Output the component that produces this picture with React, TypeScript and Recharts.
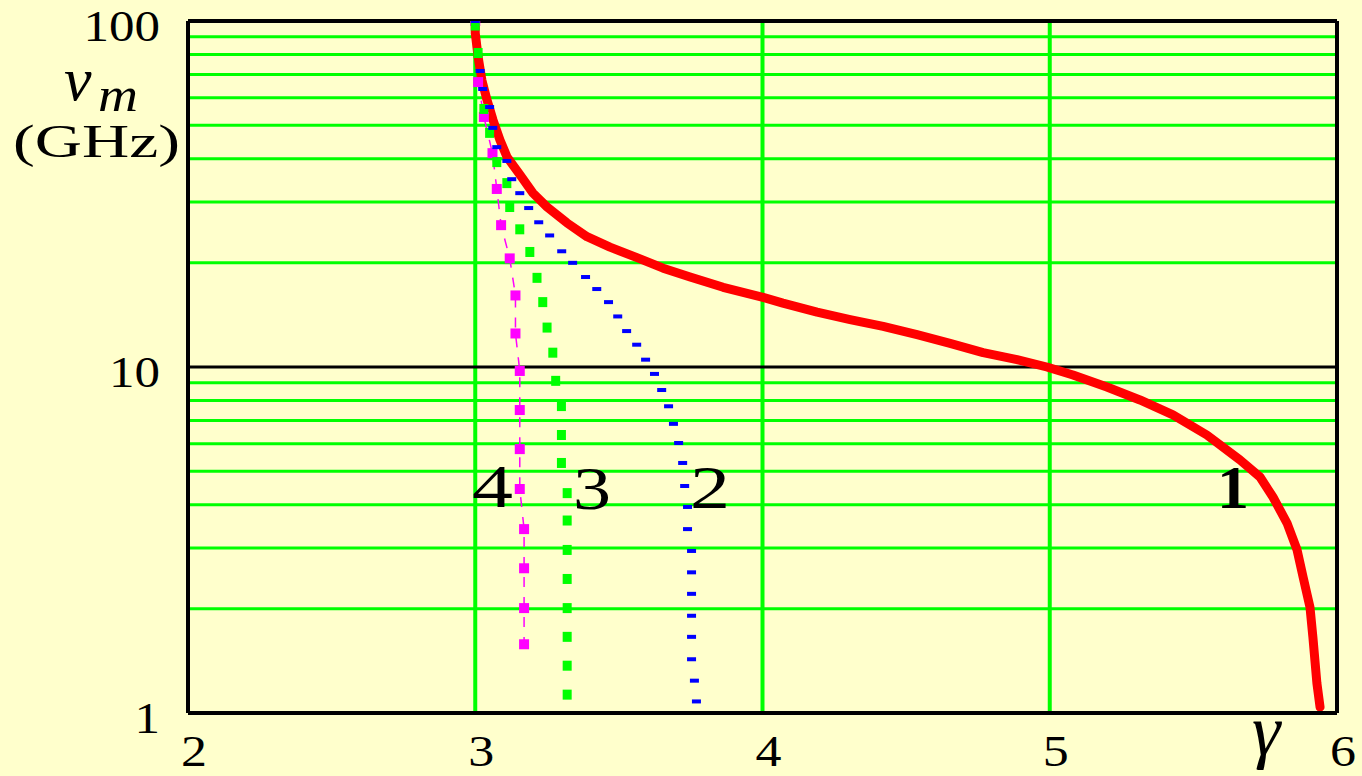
import React from "react";
import { LineChart, Line, XAxis, YAxis, ReferenceLine } from "recharts";

// curve 1 (red, solid)
const gamma1 = [3.0, 3.0, 3.01, 3.023, 3.041, 3.062, 3.086, 3.111, 3.156, 3.201, 3.25, 3.319, 3.389, 3.469, 3.563, 3.654, 3.748, 3.863, 4.002, 4.071, 4.19, 4.305, 4.42, 4.538, 4.653, 4.768, 4.886, 4.99, 5.081, 5.199, 5.314, 5.429, 5.547, 5.662, 5.732, 5.777, 5.826, 5.861, 5.882, 5.906, 5.916, 5.93, 5.941];
const freq1 = [100, 92.3, 78.7, 67.5, 59.1, 51.7, 45.3, 40.4, 35.9, 31.8, 29.0, 26.1, 23.8, 22.2, 20.7, 19.3, 18.2, 17.0, 15.9, 15.3, 14.4, 13.7, 13.1, 12.4, 11.7, 11.0, 10.5, 10.0, 9.48, 8.75, 8.03, 7.27, 6.36, 5.39, 4.81, 4.21, 3.54, 2.96, 2.47, 2.02, 1.66, 1.22, 1.04];

// curve 2 (blue dashes)
const gamma2 = [3.0, 3.017, 3.026, 3.05, 3.061, 3.075, 3.11, 3.127, 3.155, 3.186, 3.221, 3.259, 3.301, 3.339, 3.384, 3.423, 3.464, 3.496, 3.527, 3.562, 3.593, 3.624, 3.649, 3.673, 3.69, 3.708, 3.722, 3.729, 3.739, 3.739, 3.753, 3.753, 3.753, 3.753, 3.753, 3.753, 3.763, 3.77];
const freq2 = [100, 71.7, 63.6, 56.4, 49.1, 43.2, 39.4, 34.9, 31.8, 28.8, 26.2, 24.0, 21.6, 20.0, 18.2, 16.8, 15.4, 14.0, 12.7, 11.6, 10.5, 9.55, 8.58, 7.7, 6.85, 6.03, 5.28, 4.53, 3.94, 3.4, 2.94, 2.55, 2.21, 1.91, 1.66, 1.43, 1.24, 1.08];

// curve 3 (green squares)
const gamma3 = [3.0, 3.01, 3.03, 3.05, 3.075, 3.11, 3.12, 3.155, 3.19, 3.215, 3.235, 3.25, 3.27, 3.28, 3.3, 3.3, 3.3, 3.32, 3.32, 3.32, 3.32, 3.32, 3.32, 3.32, 3.32];
const freq3 = [97, 80.8, 55.7, 47.5, 39.1, 34.0, 29.0, 25.0, 21.5, 18.1, 15.4, 13.0, 11.0, 9.12, 7.71, 6.36, 5.28, 4.32, 3.6, 2.96, 2.44, 2.01, 1.66, 1.37, 1.13];

// curve 4 (magenta dash-dot)
const gamma4 = [3.0, 3.01, 3.03, 3.06, 3.075, 3.09, 3.12, 3.14, 3.14, 3.155, 3.155, 3.155, 3.155, 3.17, 3.17, 3.17, 3.17];
const freq4 = [100, 66.6, 52.8, 41.5, 32.7, 25.7, 20.6, 16.1, 12.5, 9.74, 7.51, 5.79, 4.44, 3.4, 2.62, 2.01, 1.58];

const xTicks = [2, 3, 4, 5, 6];
const yTicks = [1, 10, 100];
const minorY = [2, 3, 4, 5, 6, 7, 8, 9, 20, 30, 40, 50, 60, 70, 80, 90];
const gridX = [3, 4, 5];

const toRows = (g: number[], f: number[]) => g.map((x, i) => ({ x, y: f[i] }));

const serif = "Liberation Serif, Times New Roman, Times, serif";

const YTick = (p: any) => (
  <text x={160} y={p.y + 20} textAnchor="end" fontSize={44} fontFamily={serif} fill="#000"
    textLength={String(p.payload.value).length * 25.5} lengthAdjust="spacingAndGlyphs">
    {p.payload.value}
  </text>
);

const XTick = (p: any) => (
  <text x={p.x + 6} y={766} textAnchor="middle" fontSize={44} fontFamily={serif} fill="#000"
    textLength={26} lengthAdjust="spacingAndGlyphs">
    {p.payload.value}
  </text>
);

const dashDot = (color: string) => (p: any) => (
  <rect key={`b${p.index}`} x={p.cx - 4.5} y={p.cy - 2} width={9} height={4} fill={color} />
);
const squareDot = (color: string, w: number, h: number) => (p: any) => (
  <rect key={`s${p.index}`} x={p.cx - w / 2} y={p.cy - h / 2} width={w} height={h} fill={color} />
);

export default function App() {
  return (
    <div style={{ position: "absolute", left: 0, top: 0, width: 1362, height: 776, background: "#FFFFCC" }}>
      <LineChart width={1362} height={776} margin={{ top: 21, right: 25, bottom: 13, left: 88 }}>
        <XAxis
          type="number"
          dataKey="x"
          domain={[2, 6]}
          ticks={xTicks}
          tick={<XTick />}
          tickLine={false}
          axisLine={{ stroke: "#000", strokeWidth: 4 }}
          height={50}
          allowDataOverflow
        />
        <YAxis
          type="number"
          dataKey="y"
          scale="log"
          domain={[1, 100]}
          ticks={yTicks}
          tick={<YTick />}
          tickLine={false}
          axisLine={{ stroke: "#000", strokeWidth: 4 }}
          width={100}
          allowDataOverflow
        />
        {minorY.map((v) => (
          <ReferenceLine key={`h${v}`} y={v} stroke="#00FF00" strokeWidth={3} />
        ))}
        {gridX.map((v) => (
          <ReferenceLine key={`v${v}`} x={v} stroke="#00FF00" strokeWidth={4} />
        ))}
        <ReferenceLine y={10} stroke="#000" strokeWidth={3} />
        <ReferenceLine y={100} stroke="#000" strokeWidth={4} />
        <ReferenceLine x={6} stroke="#000" strokeWidth={4} />
        <Line
          data={toRows(gamma4, freq4)}
          dataKey="y"
          type="linear"
          stroke="#FF00FF"
          strokeWidth={1.5}
          strokeDasharray="10 10"
          dot={squareDot("#FF00FF", 10, 10)}
          isAnimationActive={false}
        />
        <Line
          data={toRows(gamma3, freq3)}
          dataKey="y"
          type="linear"
          stroke="none"
          dot={squareDot("#00FF00", 9, 10)}
          isAnimationActive={false}
        />
        <Line
          data={toRows(gamma2, freq2)}
          dataKey="y"
          type="linear"
          stroke="none"
          dot={dashDot("#0000FF")}
          isAnimationActive={false}
        />
        <Line
          data={toRows(gamma1, freq1)}
          dataKey="y"
          type="linear"
          stroke="#FF0000"
          strokeWidth={9}
          strokeLinejoin="round"
          strokeLinecap="round"
          dot={false}
          isAnimationActive={false}
        />
      </LineChart>
      <svg
        width={1362}
        height={776}
        style={{ position: "absolute", left: 0, top: 0, pointerEvents: "none" }}
        fontFamily={serif}
      >
        <text x={64} y={100} fontSize={62} fontStyle="italic">ν</text>
        <text x={98} y={111} fontSize={48} fontStyle="italic" textLength={40} lengthAdjust="spacingAndGlyphs">m</text>
        <text x={13} y={157} fontSize={46} textLength={167} lengthAdjust="spacingAndGlyphs">(GHz)</text>
        <text x={1252} y={755} fontSize={72} fontStyle="italic">γ</text>
        <text x={472} y={507} fontSize={62} textLength={41} lengthAdjust="spacingAndGlyphs">4</text>
        <text x={573} y={509} fontSize={62} textLength={38} lengthAdjust="spacingAndGlyphs">3</text>
        <text x={690} y={508} fontSize={62} textLength={40} lengthAdjust="spacingAndGlyphs">2</text>
        <text x={1217} y={508} fontSize={62} fontWeight="bold" textLength={32} lengthAdjust="spacingAndGlyphs">1</text>
      </svg>
    </div>
  );
}
